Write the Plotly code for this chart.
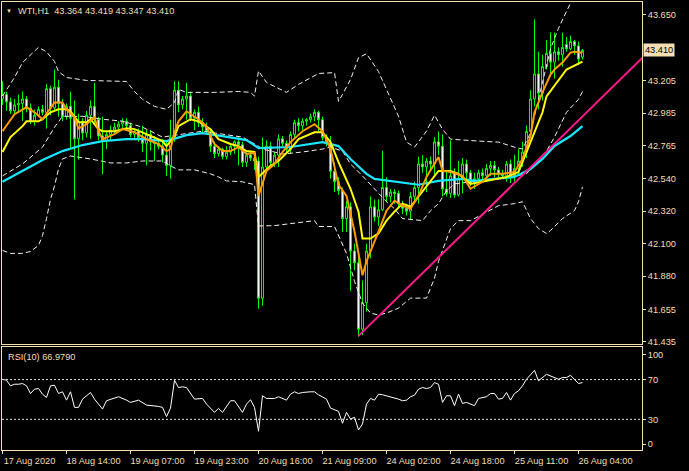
import plotly.graph_objects as go

# ---------------- data ----------------
bar_index = list(range(146))
open_ = [43.08, 43.11, 43.06, 43.00, 43.04, 43.05, 43.08, 43.02, 42.93, 42.97,
         43.01, 42.99, 43.15, 43.02, 43.16, 43.05, 42.96, 43.03, 42.95, 42.81,
         42.93, 42.85, 42.97, 43.03, 42.94, 42.83, 42.80, 42.84, 42.87, 42.89,
         42.91, 42.93, 42.90, 42.84, 42.86, 42.82, 42.78, 42.84, 42.79, 42.78,
         42.76, 42.70, 42.63, 42.82, 43.14, 43.04, 43.08, 43.10, 42.95, 42.99,
         42.92, 42.89, 42.86, 42.76, 42.71, 42.74, 42.69, 42.72, 42.76, 42.79,
         42.77, 42.65, 42.70, 42.68, 42.66, 41.73, 42.62, 42.76, 42.65, 42.70,
         42.81, 42.78, 42.74, 42.84, 42.92, 42.90, 42.93, 42.94, 42.96, 42.99,
         42.94, 42.82, 42.78, 42.59, 42.52, 42.46, 42.27, 42.35, 42.05, 41.97,
         41.52, 41.70, 42.05, 42.35, 42.28, 42.33, 42.48, 42.42, 42.45, 42.44,
         42.37, 42.34, 42.32, 42.42, 42.48, 42.64, 42.62, 42.66, 42.64, 42.79,
         42.76, 42.47, 42.44, 42.58, 42.43, 42.54, 42.64, 42.58, 42.51, 42.54,
         42.58, 42.56, 42.61, 42.63, 42.60, 42.57, 42.56, 42.64, 42.56, 42.61,
         42.66, 42.72, 42.86, 43.08, 43.25, 43.12, 43.30, 43.39, 43.33, 43.40,
         43.38, 43.45, 43.42, 43.47, 43.44, 43.364]
high = [43.20, 43.13, 43.09, 43.08, 43.11, 43.13, 43.10, 43.05, 43.01, 43.03,
        43.04, 43.18, 43.17, 43.28, 43.21, 43.08, 43.05, 43.13, 43.07, 42.98,
        42.95, 43.00, 43.07, 43.19, 42.96, 42.96, 42.86, 42.90, 42.92, 42.93,
        42.95, 42.95, 42.92, 42.88, 42.88, 42.90, 42.87, 42.87, 42.83, 42.80,
        42.81, 42.80, 42.94, 43.20, 43.20, 43.10, 43.19, 43.13, 43.01, 43.03,
        42.95, 42.92, 42.88, 42.79, 42.76, 42.75, 42.76, 42.78, 42.80, 42.82,
        42.79, 42.72, 42.73, 42.71, 42.69, 42.82, 42.80, 42.79, 42.72, 42.84,
        42.83, 42.80, 42.86, 42.94, 42.95, 42.95, 42.95, 42.98, 43.01, 43.00,
        42.96, 42.84, 42.83, 42.65, 42.55, 42.48, 42.39, 42.38, 42.10, 42.03,
        41.85, 42.10, 42.42, 42.40, 42.40, 42.73, 42.55, 42.47, 42.47, 42.46,
        42.39, 42.37, 42.45, 42.52, 42.69, 42.70, 42.68, 42.69, 42.82, 42.86,
        42.84, 42.60, 42.80, 42.61, 42.66, 42.68, 42.67, 42.60, 42.58, 42.60,
        42.61, 42.64, 42.66, 42.66, 42.62, 42.60, 42.66, 42.67, 42.70, 42.74,
        42.79, 42.90, 43.14, 43.62, 43.40, 43.38, 43.48, 43.53, 43.53, 43.43,
        43.53, 43.50, 43.51, 43.48, 43.47, 43.419]
low = [43.04, 43.00, 42.98, 42.98, 42.99, 42.93, 42.99, 42.91, 42.90, 42.96,
       42.97, 42.88, 42.97, 43.00, 42.96, 42.93, 42.94, 42.74, 42.40, 42.67,
       42.80, 42.82, 42.81, 42.92, 42.80, 42.57, 42.74, 42.80, 42.84, 42.86,
       42.88, 42.87, 42.82, 42.80, 42.79, 42.72, 42.63, 42.73, 42.66, 42.74,
       42.65, 42.56, 42.54, 42.79, 42.99, 43.01, 42.94, 42.93, 42.87, 42.89,
       42.85, 42.85, 42.72, 42.68, 42.69, 42.67, 42.67, 42.70, 42.71, 42.63,
       42.62, 42.62, 42.66, 42.60, 41.66, 41.68, 42.58, 42.63, 42.62, 42.62,
       42.76, 42.71, 42.71, 42.81, 42.86, 42.87, 42.90, 42.92, 42.93, 42.86,
       42.80, 42.76, 42.54, 42.45, 42.43, 42.18, 42.18, 41.78, 41.92, 41.47,
       41.48, 41.64, 42.00, 42.25, 42.22, 42.32, 42.38, 42.38, 42.37, 42.34,
       42.30, 42.29, 42.26, 42.39, 42.37, 42.58, 42.45, 42.60, 42.56, 42.70,
       42.42, 42.42, 42.41, 42.41, 42.42, 42.44, 42.53, 42.49, 42.47, 42.51,
       42.53, 42.52, 42.56, 42.55, 42.55, 42.54, 42.52, 42.51, 42.52, 42.56,
       42.62, 42.68, 42.82, 43.03, 43.01, 43.07, 43.28, 43.23, 43.22, 43.34,
       43.30, 43.40, 43.41, 43.38, 43.31, 43.347]
close = [43.11, 43.06, 43.00, 43.04, 43.05, 43.08, 43.02, 42.93, 42.97, 43.01,
         42.99, 43.15, 43.02, 43.16, 43.05, 42.96, 43.03, 42.95, 42.81, 42.93,
         42.85, 42.97, 43.03, 42.94, 42.83, 42.80, 42.84, 42.87, 42.89, 42.91,
         42.93, 42.90, 42.84, 42.86, 42.82, 42.78, 42.84, 42.79, 42.78, 42.76,
         42.70, 42.63, 42.82, 43.14, 43.04, 43.08, 43.10, 42.95, 42.99, 42.92,
         42.89, 42.86, 42.76, 42.71, 42.74, 42.69, 42.72, 42.76, 42.79, 42.77,
         42.65, 42.70, 42.68, 42.66, 41.73, 42.62, 42.76, 42.65, 42.70, 42.81,
         42.78, 42.74, 42.84, 42.92, 42.90, 42.93, 42.94, 42.96, 42.99, 42.94,
         42.82, 42.78, 42.59, 42.52, 42.46, 42.27, 42.35, 42.05, 41.97, 41.52,
         41.70, 42.05, 42.35, 42.28, 42.33, 42.48, 42.42, 42.45, 42.44, 42.37,
         42.34, 42.32, 42.42, 42.48, 42.64, 42.62, 42.66, 42.64, 42.79, 42.76,
         42.47, 42.44, 42.56, 42.43, 42.54, 42.64, 42.58, 42.51, 42.54, 42.58,
         42.56, 42.61, 42.63, 42.60, 42.57, 42.56, 42.64, 42.56, 42.61, 42.66,
         42.72, 42.86, 43.08, 43.25, 43.12, 43.30, 43.39, 43.33, 43.40, 43.38,
         43.43, 43.42, 43.47, 43.44, 43.35, 43.410]

# Bollinger bands (upper / middle / lower), read at visible vertices
bb_up_x = [0, 3, 5, 7, 9, 11, 13, 14, 16, 21, 27, 31, 33, 35, 38, 41, 43, 44, 46, 53,
           59, 62, 63, 64, 66, 71, 74, 79, 83, 84, 85, 87, 89, 91, 94, 96, 99, 101,
           103, 106, 108, 110, 112, 119, 124, 128, 130, 132, 134, 136, 137, 139, 140,
           142, 145]
bb_up_y = [43.10, 43.226, 43.327, 43.381, 43.43, 43.40, 43.334, 43.266, 43.226, 43.206,
           43.199, 43.199, 43.131, 43.078, 43.030, 43.010, 43.057, 43.145, 43.125, 43.125,
           43.131, 43.125, 43.10, 43.27, 43.192, 43.125, 43.179, 43.253, 43.259, 43.064,
           43.111, 43.212, 43.360, 43.387, 43.266, 43.145, 42.963, 42.788, 42.754, 42.862,
           42.970, 42.876, 42.808, 42.795, 42.788, 42.754, 42.741, 42.85, 43.08, 43.30,
           43.42, 43.56, 43.62, 43.73, 43.85]
bb_mid_x = [0, 5, 10, 13, 15, 20, 25, 30, 35, 40, 45, 50, 55, 60, 64, 65, 70, 75, 80, 82,
            85, 87, 90, 93, 96, 98, 100, 105, 107, 109, 111, 113, 117, 122, 127, 131, 133,
            136, 138, 141, 144, 145]
bb_mid_y = [42.559, 42.640, 42.754, 42.889, 42.963, 42.963, 42.943, 42.930, 42.889, 42.822,
            42.842, 42.862, 42.842, 42.822, 42.76, 42.741, 42.707, 42.721, 42.741, 42.755,
            42.727, 42.640, 42.559, 42.472, 42.384, 42.337, 42.270, 42.256, 42.323, 42.371,
            42.458, 42.505, 42.519, 42.539, 42.552, 42.573, 42.640, 42.727, 42.822, 42.990,
            43.078, 43.131]
bb_lo_x = [0, 2, 5, 7, 9, 10, 11, 12, 13, 14, 15, 17, 22, 27, 31, 35, 40, 42, 44, 48, 52,
           54, 56, 60, 63, 64, 68, 74, 78, 79, 83, 86, 88, 90, 92, 94, 96, 99, 102, 106,
           108, 109, 111, 112, 114, 117, 124, 128, 130, 132, 134, 136, 137, 140, 143, 144,
           145]
bb_lo_y = [42.054, 42.034, 42.034, 42.047, 42.088, 42.155, 42.270, 42.40, 42.49, 42.606,
           42.674, 42.694, 42.674, 42.647, 42.647, 42.660, 42.660, 42.627, 42.600, 42.600,
           42.573, 42.552, 42.525, 42.519, 42.50, 42.22, 42.222, 42.243, 42.256, 42.216,
           42.216, 42.034, 41.845, 41.697, 41.630, 41.616, 41.630, 41.663, 41.731, 41.731,
           41.866, 41.980, 42.135, 42.202, 42.256, 42.256, 42.357, 42.371, 42.384, 42.270,
           42.202, 42.169, 42.189, 42.270, 42.324, 42.384, 42.485]

# moving averages (orange fast, yellow medium, aqua slow)
ma_fast_x = [0, 3, 6, 8, 10, 13, 15, 16, 18, 19, 21, 23, 24, 25, 28, 30, 33, 36, 39, 41,
             42, 43, 44, 46, 48, 49, 51, 52, 53, 55, 57, 59, 61, 63, 64, 66, 68, 70, 72,
             75, 78, 80, 82, 84, 86, 88, 90, 91, 94, 96, 98, 100, 102, 104, 106, 109, 110,
             112, 115, 117, 120, 122, 125, 128, 130, 132, 133, 135, 137, 138, 140, 142, 143,
             145]
ma_fast_y = [42.862, 42.977, 43.024, 42.99, 42.943, 43.057, 43.057, 43.01, 42.956, 42.88,
             42.909, 42.956, 42.862, 42.808, 42.842, 42.876, 42.855, 42.808, 42.775, 42.727,
             42.741, 42.855, 42.929, 42.997, 42.96, 42.943, 42.896, 42.828, 42.775, 42.727,
             42.727, 42.754, 42.707, 42.715, 42.424, 42.593, 42.640, 42.721, 42.788, 42.862,
             42.909, 42.862, 42.741, 42.50, 42.424, 42.182, 41.886, 41.980, 42.182, 42.323,
             42.391, 42.357, 42.337, 42.424, 42.552, 42.687, 42.593, 42.586, 42.559, 42.472,
             42.519, 42.573, 42.573, 42.586, 42.674, 42.829, 42.990, 43.125, 43.246, 43.280,
             43.327, 43.394, 43.401, 43.394]
ma_mid_x = [0, 2, 5, 6, 9, 10, 12, 14, 16, 17, 19, 21, 22, 24, 25, 28, 31, 33, 36, 40, 41,
            43, 44, 47, 49, 52, 54, 57, 59, 61, 63, 64, 67, 69, 72, 74, 78, 80, 82, 84, 87,
            89, 90, 92, 94, 96, 98, 100, 102, 104, 107, 109, 112, 114, 117, 121, 126, 129,
            131, 133, 135, 136, 139, 141, 145]
ma_mid_y = [42.721, 42.822, 42.896, 42.929, 42.929, 42.943, 42.990, 43.010, 43.010, 42.997,
            42.923, 42.923, 42.943, 42.876, 42.862, 42.862, 42.882, 42.876, 42.842, 42.795,
            42.761, 42.828, 42.896, 42.943, 42.929, 42.876, 42.808, 42.775, 42.761, 42.727,
            42.721, 42.552, 42.627, 42.660, 42.741, 42.808, 42.855, 42.855, 42.788, 42.653,
            42.472, 42.317, 42.135, 42.135, 42.169, 42.256, 42.317, 42.371, 42.350, 42.418,
            42.519, 42.593, 42.593, 42.573, 42.505, 42.525, 42.552, 42.586, 42.721, 42.855,
            42.990, 43.098, 43.212, 43.280, 43.334]
ma_slow_x = [0, 5, 10, 15, 20, 25, 31, 35, 41, 46, 50, 55, 61, 64, 72, 80, 84, 87, 91, 93,
             99, 104, 109, 115, 118, 128, 132, 135, 138, 142, 145]
ma_slow_y = [42.519, 42.593, 42.667, 42.727, 42.768, 42.795, 42.808, 42.808, 42.795, 42.835,
             42.849, 42.828, 42.802, 42.748, 42.755, 42.788, 42.761, 42.674, 42.573, 42.539,
             42.519, 42.499, 42.525, 42.539, 42.525, 42.552, 42.606, 42.674, 42.762, 42.829,
             42.896]

# trend line drawn on the chart (two anchor points: bar index, price)
trend_x = [89, 160]
trend_y = [41.475, 43.360]

# RSI(10)
rsi_x = [0, 1, 2, 3, 4, 5, 6, 7, 8, 9, 10, 11, 12, 13, 14, 15, 16, 17, 18, 19, 20, 22, 23,
         25, 26, 28, 29, 31, 32, 34, 36, 39, 40, 41, 42, 43, 44, 45, 46, 48, 50, 51, 53, 54,
         55, 57, 58, 60, 61, 62, 63, 64, 65, 66, 68, 69, 70, 71, 72, 73, 74, 75, 77, 78, 79,
         81, 82, 84, 85, 86, 87, 88, 89, 90, 91, 92, 93, 94, 95, 96, 98, 99, 100, 101, 102,
         103, 104, 105, 106, 107, 108, 109, 110, 111, 112, 113, 114, 115, 116, 118, 119,
         120, 121, 122, 123, 124, 125, 126, 127, 128, 129, 130, 131, 133, 134, 136, 137,
         139, 140, 141, 142, 143, 144, 145]
rsi_y = [70.3, 69.3, 63.7, 65.3, 65.3, 66.0, 63.7, 56.0, 60.3, 61.0, 55.3, 52.0, 63.7, 64.3,
         56.0, 57.7, 49.3, 57.7, 42.0, 42.0, 50.3, 57.0, 50.3, 40.3, 48.7, 51.0, 52.7, 49.3,
         47.0, 49.3, 44.3, 43.0, 42.0, 32.7, 41.3, 69.3, 62.0, 62.7, 62.0, 50.3, 51.0, 45.3,
         37.0, 41.0, 37.0, 48.7, 48.7, 37.0, 45.3, 49.7, 42.0, 18.0, 53.7, 51.0, 51.0, 52.7,
         51.0, 49.3, 55.3, 57.7, 56.0, 57.0, 57.7, 57.7, 54.7, 50.3, 41.3, 38.0, 26.0, 37.0,
         30.3, 32.0, 19.3, 25.3, 45.3, 51.0, 49.3, 55.3, 54.7, 53.7, 52.0, 50.3, 48.7, 49.3,
         52.7, 54.3, 60.3, 62.0, 61.0, 62.0, 67.0, 65.3, 47.0, 53.7, 53.7, 43.7, 55.3, 46.0,
         47.0, 43.7, 51.0, 52.0, 52.7, 56.0, 56.0, 50.3, 51.0, 57.0, 49.3, 56.0, 58.7, 63.7,
         70.3, 79.3, 68.7, 75.3, 73.7, 70.3, 72.0, 72.0, 74.3, 70.3, 66.0, 66.979]
rsi_levels = [30, 70]
rsi_inner_ticks = [30, 70]
rsi_edge_ticks = [0, 100]

price_ticks = [43.650, 43.205, 42.985, 42.765, 42.540, 42.320, 42.100, 41.880, 41.655, 41.435]
date_idx = [0, 16, 32, 48, 64, 80, 96, 112, 128, 144]
date_labels = ["17 Aug 2020", "18 Aug 14:00", "19 Aug 07:00", "19 Aug 23:00", "20 Aug 16:00",
               "21 Aug 09:00", "24 Aug 02:00", "24 Aug 18:00", "25 Aug 11:00", "26 Aug 04:00"]
symbol = "WTI,H1"

# ---------------- figure ----------------
W, H = 689, 471
FG = "#f5deb3"
FONT = "Liberation Sans"
FS = 9.2

xdom = [2 / W, 642 / W]
ydom_main = [1 - 346.5 / H, 1 - 2 / H]
ydom_rsi = [1 - 453 / H, 1 - 349 / H]
xr = [-0.125, 159.875]

fig = go.Figure()
fig.add_trace(go.Candlestick(
    x=bar_index, open=open_, high=high, low=low, close=close,
    xaxis="x", yaxis="y", whiskerwidth=0,
    increasing=dict(line=dict(color="#00ff00", width=1), fillcolor="#000000"),
    decreasing=dict(line=dict(color="#00ff00", width=1), fillcolor="#ffffff"),
    showlegend=False, hoverinfo="skip"))

bb_style = dict(color="#f2f2f2", width=1, dash="5px,3px")
for bx, by in ((bb_up_x, bb_up_y), (bb_mid_x, bb_mid_y), (bb_lo_x, bb_lo_y)):
    fig.add_trace(go.Scatter(x=bx, y=by, mode="lines", line=bb_style,
                             xaxis="x", yaxis="y", hoverinfo="skip"))

fig.add_trace(go.Scatter(x=ma_slow_x, y=ma_slow_y, mode="lines",
                         line=dict(color="#19e6ff", width=2.2), xaxis="x", yaxis="y"))
fig.add_trace(go.Scatter(x=ma_mid_x, y=ma_mid_y, mode="lines",
                         line=dict(color="#ffff00", width=2), xaxis="x", yaxis="y"))
fig.add_trace(go.Scatter(x=ma_fast_x, y=ma_fast_y, mode="lines",
                         line=dict(color="#ff9c00", width=2), xaxis="x", yaxis="y"))
fig.add_trace(go.Scatter(x=trend_x, y=trend_y, mode="lines",
                         line=dict(color="#ff1a8c", width=2), xaxis="x", yaxis="y"))

fig.add_trace(go.Scatter(x=rsi_x, y=rsi_y, mode="lines",
                         line=dict(color="#ffffff", width=1), xaxis="x2", yaxis="y2"))
# empty trace so the secondary RSI scale (0 / 100 labels) is drawn
fig.add_trace(go.Scatter(x=[], y=[], mode="lines", xaxis="x2", yaxis="y3"))

for lv in rsi_levels:
    fig.add_shape(type="line", xref="x2 domain", yref="y2", x0=0, x1=1, y0=lv, y1=lv,
                  line=dict(color="#e0e0e0", width=1, dash="2px,2px"))

axis_common = dict(showgrid=False, zeroline=False, showline=True, mirror=True,
                   linecolor=FG, linewidth=1, fixedrange=True)
tfont = dict(family=FONT, size=FS, color=FG)

fig.update_layout(
    width=W, height=H, margin=dict(l=0, r=0, t=0, b=0),
    paper_bgcolor="#000000", plot_bgcolor="#000000", showlegend=False,
    font=dict(family=FONT, size=FS, color=FG),
    boxgap=0.3,
    xaxis=dict(domain=xdom, range=xr, anchor="y", showticklabels=False, ticks="",
               rangeslider=dict(visible=False), **axis_common),
    yaxis=dict(domain=ydom_main, range=[41.418, 43.7375], anchor="x", side="right",
               tickvals=price_ticks, ticktext=[f"{v:.3f}" for v in price_ticks],
               ticks="outside", ticklen=3, tickcolor=FG, tickfont=tfont, **axis_common),
    xaxis2=dict(domain=xdom, range=xr, anchor="y2", tickvals=date_idx, ticktext=date_labels,
                ticks="outside", ticklen=3, tickcolor=FG, ticklabelshift=27,
                ticklabelstandoff=-1, tickfont=tfont, **axis_common),
    yaxis2=dict(domain=ydom_rsi, range=[-1, 103], anchor="x2", side="right",
                tickvals=rsi_inner_ticks, ticks="outside", ticklen=3, tickcolor=FG,
                tickfont=tfont, **axis_common),
    yaxis3=dict(overlaying="y2", anchor="x2", side="right", range=[-6.7, 108.9],
                tickvals=rsi_edge_ticks, ticks="outside", ticklen=3, tickcolor=FG,
                tickfont=tfont, showgrid=False, zeroline=False, showline=False,
                fixedrange=True),
)

title_txt = f"{symbol}  {open_[-1]:.3f} {high[-1]:.3f} {low[-1]:.3f} {close[-1]:.3f}"
fig.add_annotation(text="\u25bc", xref="paper", yref="paper", x=4 / W, y=1 - 11 / H,
                   xanchor="left", yanchor="middle", showarrow=False,
                   font=dict(family=FONT, size=6, color=FG))
fig.add_annotation(text=title_txt, xref="paper", yref="paper", x=16 / W, y=1 - 11 / H,
                   xanchor="left", yanchor="middle", showarrow=False, font=tfont)
fig.add_annotation(text=f"RSI(10) {rsi_y[-1]:.4f}", xref="paper", yref="paper",
                   x=6 / W, y=1 - 359 / H, xanchor="left", yanchor="middle", showarrow=False,
                   font=tfont)
fig.add_annotation(text=f"{close[-1]:.3f}", xref="paper", yref="y", x=643 / W, y=close[-1],
                   xanchor="left", yanchor="middle", showarrow=False, bgcolor=FG,
                   borderpad=1, font=dict(family=FONT, size=FS, color="#000000"))

fig.write_html("out.html",
               config={"displayModeBar": False},
               post_script="document.body.style.margin='0px';"
                           "document.body.style.background='#000000';")
